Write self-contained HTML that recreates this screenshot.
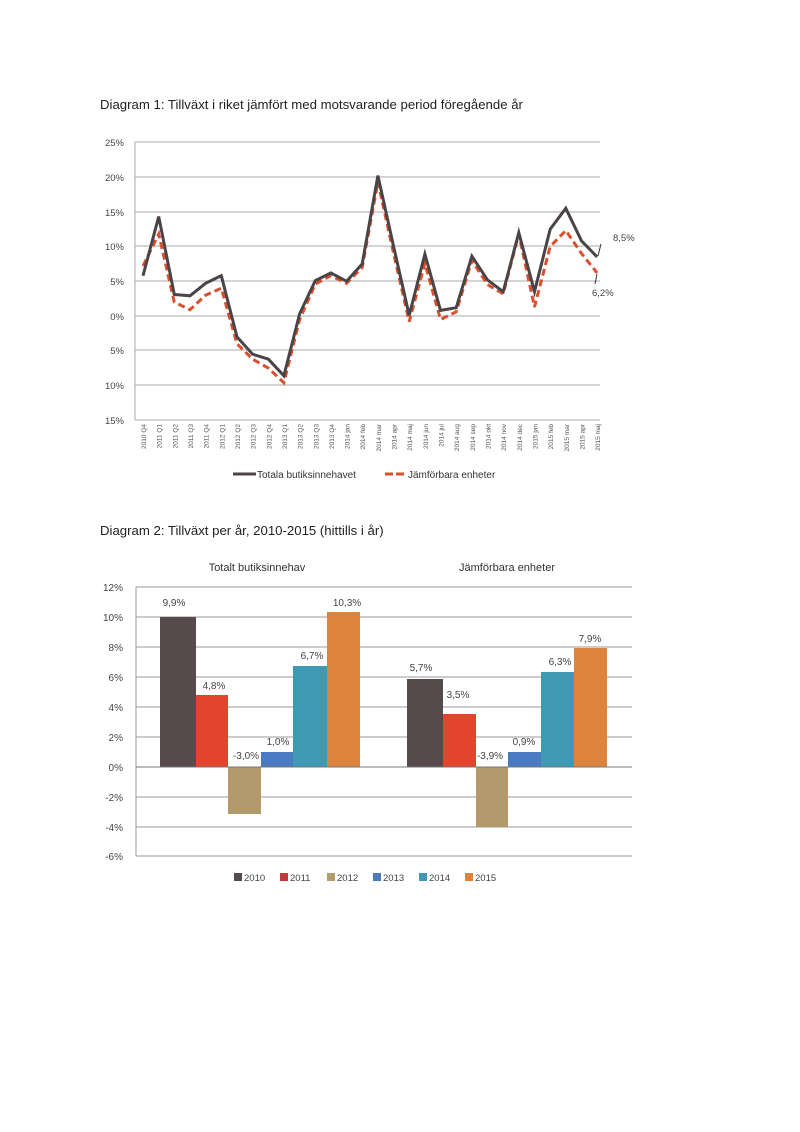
<!DOCTYPE html>
<html><head><meta charset="utf-8"><style>
html,body{margin:0;padding:0;background:#fff;}
svg{display:block;font-family:"Liberation Sans",sans-serif;}
</style></head><body>
<svg width="800" height="1132" viewBox="0 0 800 1132" xmlns="http://www.w3.org/2000/svg">
<rect width="800" height="1132" fill="#fff"/>
<text x="100" y="109" font-size="13.2" fill="#222">Diagram 1: Tillväxt i riket jämfört med motsvarande period föregående år</text>
<g stroke="#aaa" stroke-width="1">
<line x1="135" y1="142" x2="600" y2="142"/><line x1="135" y1="177" x2="600" y2="177"/>
<line x1="135" y1="212" x2="600" y2="212"/><line x1="135" y1="246" x2="600" y2="246"/>
<line x1="135" y1="281" x2="600" y2="281"/><line x1="135" y1="316" x2="600" y2="316"/>
<line x1="135" y1="350" x2="600" y2="350"/><line x1="135" y1="385" x2="600" y2="385"/>
<line x1="135" y1="420" x2="600" y2="420"/><line x1="135" y1="142" x2="135" y2="420"/>
</g>
<g font-size="9.5" fill="#444" text-anchor="end">
<text x="124" y="146">25%</text><text x="124" y="181">20%</text><text x="124" y="216">15%</text>
<text x="124" y="250">10%</text><text x="124" y="285">5%</text><text x="124" y="320">0%</text>
<text x="124" y="354">5%</text><text x="124" y="389">10%</text><text x="124" y="424">15%</text>
</g>
<polyline fill="none" stroke="#d9502e" stroke-width="3" stroke-dasharray="7,4" points="143,266 158.7,234 174.3,302.1 190,309.7 205.6,295.2 221.3,288.2 237,343.8 252.6,359.1 268.3,368.1 283.9,382.7 299.6,319.5 315.3,284 330.9,275.7 346.6,283.3 362.2,267.4 377.9,181.9 393.6,253.5 409.2,321.6 424.9,263.2 440.5,319.5 456.2,311.8 471.9,260.4 487.5,284.7 503.2,293.8 518.8,234 534.5,307 550.2,246.5 565.8,230.5 581.5,253.5 597.1,272.9"/>
<polyline fill="none" stroke="#4a4446" stroke-width="3" points="143,275.7 158.7,216.6 174.3,294.5 190,295.8 205.6,283.3 221.3,275.7 237,336.9 252.6,354.2 268.3,359.1 283.9,375.8 299.6,313.9 315.3,280.6 330.9,272.9 346.6,281.3 362.2,263.9 377.9,175.6 393.6,246.5 409.2,315.3 424.9,254.1 440.5,310.4 456.2,307.7 471.9,256.2 487.5,279.9 503.2,291.7 518.8,232.6 534.5,291.7 550.2,229.1 565.8,208.3 581.5,240.9 597.1,256.9"/>
<line x1="598" y1="256" x2="601" y2="244" stroke="#333"/>
<line x1="597" y1="274" x2="595" y2="284" stroke="#333"/>
<text x="613" y="241" font-size="9.5" fill="#444">8,5%</text>
<text x="592" y="296" font-size="9.5" fill="#444">6,2%</text>
<g font-size="6.5" fill="#555" text-anchor="end">
<text transform="translate(146,424) rotate(-90)">2010 Q4</text>
<text transform="translate(161.7,424) rotate(-90)">2011 Q1</text>
<text transform="translate(177.3,424) rotate(-90)">2011 Q2</text>
<text transform="translate(193,424) rotate(-90)">2011 Q3</text>
<text transform="translate(208.6,424) rotate(-90)">2011 Q4</text>
<text transform="translate(224.3,424) rotate(-90)">2012 Q1</text>
<text transform="translate(240,424) rotate(-90)">2012 Q2</text>
<text transform="translate(255.6,424) rotate(-90)">2012 Q3</text>
<text transform="translate(271.3,424) rotate(-90)">2012 Q4</text>
<text transform="translate(286.9,424) rotate(-90)">2013 Q1</text>
<text transform="translate(302.6,424) rotate(-90)">2013 Q2</text>
<text transform="translate(318.3,424) rotate(-90)">2013 Q3</text>
<text transform="translate(333.9,424) rotate(-90)">2013 Q4</text>
<text transform="translate(349.6,424) rotate(-90)">2014 jan</text>
<text transform="translate(365.2,424) rotate(-90)">2014 feb</text>
<text transform="translate(380.9,424) rotate(-90)">2014 mar</text>
<text transform="translate(396.6,424) rotate(-90)">2014 apr</text>
<text transform="translate(412.2,424) rotate(-90)">2014 maj</text>
<text transform="translate(427.9,424) rotate(-90)">2014 jun</text>
<text transform="translate(443.5,424) rotate(-90)">2014 jul</text>
<text transform="translate(459.2,424) rotate(-90)">2014 aug</text>
<text transform="translate(474.9,424) rotate(-90)">2014 sep</text>
<text transform="translate(490.5,424) rotate(-90)">2014 okt</text>
<text transform="translate(506.2,424) rotate(-90)">2014 nov</text>
<text transform="translate(521.8,424) rotate(-90)">2014 dec</text>
<text transform="translate(537.5,424) rotate(-90)">2015 jan</text>
<text transform="translate(553.2,424) rotate(-90)">2015 feb</text>
<text transform="translate(568.8,424) rotate(-90)">2015 mar</text>
<text transform="translate(584.5,424) rotate(-90)">2015 apr</text>
<text transform="translate(600.1,424) rotate(-90)">2015 maj</text>
</g>
<line x1="233" y1="474" x2="256" y2="474" stroke="#4a4446" stroke-width="3"/>
<text x="257" y="478" font-size="10" fill="#333">Totala butiksinnehavet</text>
<line x1="385" y1="474" x2="407" y2="474" stroke="#d9502e" stroke-width="3" stroke-dasharray="8,3"/>
<text x="408" y="478" font-size="10" fill="#333">Jämförbara enheter</text>

<text x="100" y="535" font-size="13.2" fill="#222">Diagram 2: Tillväxt per år, 2010-2015 (hittills i år)</text>
<text x="257" y="571" font-size="11" fill="#333" text-anchor="middle">Totalt butiksinnehav</text>
<text x="507" y="571" font-size="11" fill="#333" text-anchor="middle">Jämförbara enheter</text>
<g stroke="#999" stroke-width="1">
<line x1="136" y1="587" x2="632" y2="587"/><line x1="136" y1="617" x2="632" y2="617"/>
<line x1="136" y1="647" x2="632" y2="647"/><line x1="136" y1="677" x2="632" y2="677"/>
<line x1="136" y1="707" x2="632" y2="707"/><line x1="136" y1="737" x2="632" y2="737"/>
<line x1="136" y1="797" x2="632" y2="797"/><line x1="136" y1="827" x2="632" y2="827"/>
<line x1="136" y1="856" x2="632" y2="856"/><line x1="136" y1="587" x2="136" y2="856"/>
</g>
<g font-size="10" fill="#444" text-anchor="end">
<text x="123" y="591">12%</text><text x="123" y="621">10%</text><text x="123" y="651">8%</text>
<text x="123" y="681">6%</text><text x="123" y="711">4%</text><text x="123" y="741">2%</text>
<text x="123" y="771">0%</text><text x="123" y="801">-2%</text><text x="123" y="831">-4%</text>
<text x="123" y="860">-6%</text>
</g>
<rect x="160" y="617" width="36" height="150" fill="#574a4d"/>
<rect x="196" y="695" width="32" height="72" fill="#e2452b"/>
<rect x="228" y="767" width="33" height="47" fill="#b39a6d"/>
<rect x="261" y="752" width="32" height="15" fill="#4a7ac0"/>
<rect x="293" y="666" width="34" height="101" fill="#3d9ab2"/>
<rect x="327" y="612" width="33" height="155" fill="#dc843d"/>
<rect x="407" y="679" width="36" height="88" fill="#574a4d"/>
<rect x="443" y="714" width="33" height="53" fill="#e2452b"/>
<rect x="476" y="767" width="32" height="60" fill="#b39a6d"/>
<rect x="508" y="752" width="33" height="15" fill="#4a7ac0"/>
<rect x="541" y="672" width="33" height="95" fill="#3d9ab2"/>
<rect x="574" y="648" width="33" height="119" fill="#dc843d"/>
<line x1="136" y1="767" x2="632" y2="767" stroke="#777" stroke-width="1"/>
<g font-size="10" fill="#444" text-anchor="middle">
<text x="174" y="606">9,9%</text><text x="214" y="689">4,8%</text><text x="246" y="759">-3,0%</text>
<text x="278" y="745">1,0%</text><text x="312" y="659">6,7%</text><text x="347" y="606">10,3%</text>
<text x="421" y="671">5,7%</text><text x="458" y="698">3,5%</text><text x="490" y="759">-3,9%</text>
<text x="524" y="745">0,9%</text><text x="560" y="665">6,3%</text><text x="590" y="642">7,9%</text>
</g>
<g font-size="9.5" fill="#444">
<rect x="234" y="873" width="8" height="8" fill="#574a4d"/><text x="244" y="881">2010</text>
<rect x="280" y="873" width="8" height="8" fill="#c0393b"/><text x="290" y="881">2011</text>
<rect x="327" y="873" width="8" height="8" fill="#b39a6d"/><text x="337" y="881">2012</text>
<rect x="373" y="873" width="8" height="8" fill="#4a7ac0"/><text x="383" y="881">2013</text>
<rect x="419" y="873" width="8" height="8" fill="#3d9ab2"/><text x="429" y="881">2014</text>
<rect x="465" y="873" width="8" height="8" fill="#dc843d"/><text x="475" y="881">2015</text>
</g>
</svg>
</body></html>
